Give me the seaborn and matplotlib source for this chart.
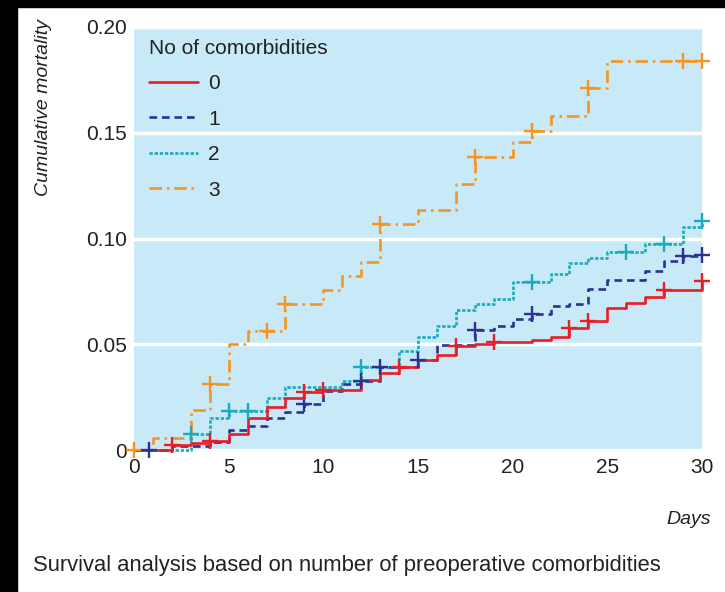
import matplotlib
matplotlib.use("Agg")
import matplotlib.pyplot as plt
from matplotlib.lines import Line2D
from matplotlib.patches import Rectangle
from matplotlib import font_manager
import numpy as np
import pandas as pd
import seaborn as sns

# ---------------- data ----------------
groups = ["0", "1", "2", "3"]

red_t = [0, 2, 3, 4, 5, 6, 7, 8, 9, 10, 12, 13, 14, 15, 16, 17, 18, 19, 21, 22, 23, 24, 25, 26, 27, 28, 30]
red_y = [0, 0.0022, 0.0035, 0.0043, 0.0075, 0.015, 0.0203, 0.0248, 0.0272, 0.0282, 0.0333, 0.0362, 0.0394,
         0.0425, 0.0448, 0.049, 0.05, 0.0509, 0.0521, 0.0535, 0.0577, 0.0609, 0.067, 0.0695, 0.0724, 0.0757, 0.0797]
red_c = [2, 4, 9, 10, 14, 17, 19, 23, 24, 28, 30]

blue_t = [0, 2, 4, 5, 6, 7, 8, 9, 10, 11, 12, 13, 15, 16, 18, 19, 20, 21, 22, 23, 24, 25, 27, 28, 29, 30]
blue_y = [0, 0.0019, 0.004, 0.0096, 0.0115, 0.015, 0.018, 0.0216, 0.028, 0.031, 0.0325, 0.0392, 0.0425,
          0.0497, 0.0567, 0.0588, 0.0619, 0.0643, 0.068, 0.069, 0.0762, 0.0802, 0.0846, 0.0893, 0.0916, 0.0921]
blue_c = [0.8, 9, 12, 13, 15, 18, 21, 29, 30]

teal_t = [0, 3, 4, 5, 7, 8, 11, 12, 14, 15, 16, 17, 18, 19, 20, 22, 23, 24, 25, 27, 29, 30]
teal_y = [0, 0.0075, 0.015, 0.0185, 0.0244, 0.0298, 0.0328, 0.0393, 0.047, 0.0536, 0.0588, 0.066, 0.0688,
          0.0714, 0.0796, 0.0832, 0.0886, 0.0906, 0.0935, 0.0974, 0.1056, 0.1085]
teal_c = [3, 5, 6, 12, 21, 26, 28, 30]

orange_t = [0, 1, 3, 4, 5, 6, 8, 10, 11, 12, 13, 15, 17, 18, 20, 21, 22, 24, 25, 30]
orange_y = [0, 0.0055, 0.019, 0.031, 0.050, 0.0565, 0.069, 0.0756, 0.0823, 0.0887, 0.107, 0.1135, 0.126,
            0.1387, 0.1457, 0.151, 0.158, 0.171, 0.184, 0.184]
orange_c = [0, 4, 7, 8, 13, 18, 21, 24, 29, 30]

x_ticks = [0, 5, 10, 15, 20, 25, 30]
y_ticks = [0, 0.05, 0.10, 0.15, 0.20]
y_tick_labels = ["0", "0.05", "0.10", "0.15", "0.20"]

legend_title = "No of comorbidities"
x_label = "Days"
y_label = "Cumulative mortality"
caption = "Survival analysis based on number of preoperative comorbidities"

# ---------------- style ----------------
sns.set_theme(style="white")
avail = {f.name for f in font_manager.fontManager.ttflist}
narrow = "Liberation Sans Narrow" if "Liberation Sans Narrow" in avail else "Liberation Sans"
plt.rcParams["font.family"] = [narrow, "DejaVu Sans"]
plt.rcParams["lines.scale_dashes"] = False

colors = {"0": "#EC1C24", "1": "#2E3192", "2": "#1AABBC", "3": "#F7941D"}
dashes = {"0": None, "1": (5.5, 3.5), "2": (2.4, 1.3), "3": (9, 3.5, 1.8, 3.5)}
series = {
    "0": (red_t, red_y, red_c),
    "1": (blue_t, blue_y, blue_c),
    "2": (teal_t, teal_y, teal_c),
    "3": (orange_t, orange_y, orange_c),
}

W, H = 725, 592
fig = plt.figure(figsize=(W / 100, H / 100), dpi=100)
fig.patch.set_facecolor("white")
ax = fig.add_axes([134 / W, 1 - 450 / H, 568 / W, 423 / H])
ax.set_facecolor("#C7E9F8")

FS = 15
TXT = "#222222"

draw_order = ["3", "2", "1", "0"]
for g in draw_order:
    t, y, c = series[g]
    df = pd.DataFrame({"t": t, "y": y})
    kw = dict(color=colors[g], lw=1.9, drawstyle="steps-post", clip_on=False, zorder=3)
    sns.lineplot(data=df, x="t", y="y", ax=ax, estimator=None, sort=False, legend=False, **kw)
    ln = ax.lines[-1]
    if dashes[g] is not None:
        ln.set_dashes(dashes[g])
    # censor marks
    tt = np.asarray(t)
    yy = np.asarray(y)
    idx = np.searchsorted(tt, np.asarray(c), side="right") - 1
    cdf = pd.DataFrame({"t": c, "y": yy[idx]})
    ax.plot(cdf["t"], cdf["y"], linestyle="none", marker="+", markersize=11, markeredgewidth=1.7,
            color=colors[g], clip_on=False, zorder=4)

ax.set_xlim(0, 30)
ax.set_ylim(0, 0.20)
ax.set_xticks(x_ticks)
ax.set_xticklabels([str(v) for v in x_ticks])
ax.set_yticks(y_ticks)
ax.set_yticklabels(y_tick_labels)
ax.set_xlabel("")
ax.set_ylabel("")
ax.yaxis.grid(True, color="white", lw=2.5, zorder=1)
ax.xaxis.grid(False)
ax.set_axisbelow(True)
for s in ax.spines.values():
    s.set_visible(False)
ax.tick_params(axis="x", direction="in", length=7, width=2, color="white", pad=6, labelsize=FS,
               labelcolor=TXT)
ax.tick_params(axis="y", length=0, pad=5, labelsize=FS, labelcolor=TXT)

handles = []
for g in groups:
    h = Line2D([0], [0], color=colors[g], lw=1.9)
    if dashes[g] is not None:
        h.set_dashes(dashes[g])
    handles.append(h)
leg = ax.legend(handles, groups, title=legend_title, loc="upper left",
                bbox_to_anchor=(0.026, 0.972), frameon=False, fontsize=FS, title_fontsize=FS,
                handlelength=2.35, handletextpad=0.5, labelspacing=0.79, borderpad=0,
                borderaxespad=0, alignment="left")
for txt in leg.get_texts():
    txt.set_color(TXT)
leg.get_title().set_color(TXT)

fig.text(44 / W, 1 - 108 / H, y_label, rotation=90, ha="center", va="center",
         fontsize=14, style="italic", color=TXT)
fig.text(711 / W, 1 - 520 / H, x_label, ha="right", va="center", fontsize=14,
         style="italic", color=TXT)
fig.text(33 / W, 1 - 566 / H, caption, ha="left", va="center", fontsize=15.8, color=TXT)

# black frame strips (left and top)
fig.patches.append(Rectangle((0, 0), 17 / W, 1, transform=fig.transFigure, color="black", zorder=10))
fig.patches.append(Rectangle((0, 1 - 7 / H), 1, 7 / H, transform=fig.transFigure, color="black", zorder=10))

fig.savefig("out.png", dpi=100, facecolor="white")
